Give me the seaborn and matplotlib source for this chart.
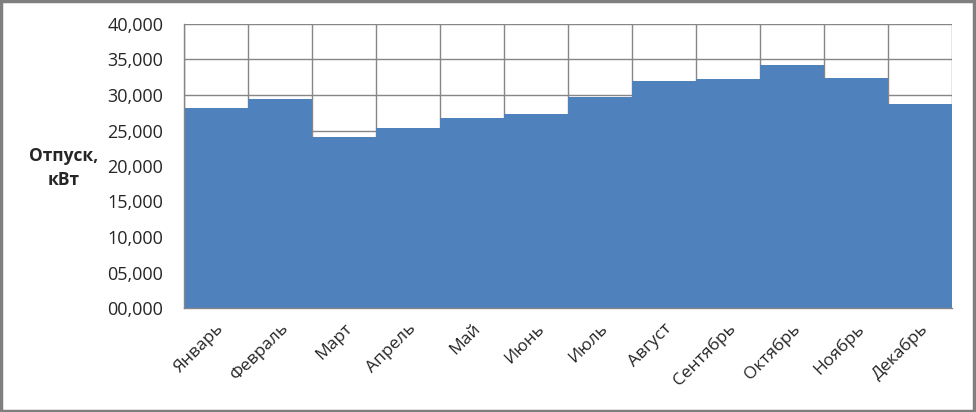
import matplotlib.pyplot as plt
import matplotlib.ticker as mticker
import pandas as pd
import seaborn as sns

# monthly release values
months = ['Январь', 'Февраль', 'Март', 'Апрель', 'Май', 'Июнь',
          'Июль', 'Август', 'Сентябрь', 'Октябрь', 'Ноябрь', 'Декабрь']
values = [28200, 29400, 24100, 25350, 26750, 27300,
          29700, 31950, 32250, 34200, 32400, 28700]
yticks = [0, 5000, 10000, 15000, 20000, 25000, 30000, 35000, 40000]

df = pd.DataFrame({'month': months, 'value': values})

sns.set_style("white")
plt.rcParams['font.family'] = ['Open Sans', 'DejaVu Sans']

grid_color = '#868686'

fig = plt.figure(figsize=(9.76, 4.12), dpi=100)
ax = fig.add_axes([184 / 976, 1 - 308 / 412, (952 - 184) / 976, (308 - 24) / 412])

sns.barplot(data=df, x='month', y='value', color='#4F81BD', saturation=1,
            width=1.0, linewidth=0, ax=ax, zorder=2)

ax.set_xlim(-0.5, len(months) - 0.5)
ax.set_ylim(0, 40000)
ax.set_yticks(yticks)
ax.yaxis.set_major_formatter(mticker.FuncFormatter(lambda v, p: f"{int(v):06,}"))

# category boundaries carry the ticks and vertical grid lines
ax.set_xticks([i - 0.5 for i in range(len(months) + 1)], minor=True)
ax.tick_params(axis='x', which='major', length=0, pad=9)
ax.tick_params(axis='x', which='minor', length=5, width=1, color=grid_color)
ax.tick_params(axis='y', length=7, width=1, color=grid_color, labelsize=13, pad=8)
ax.set_xticklabels(months, rotation=45, ha='right', rotation_mode='anchor', fontsize=12.5)

ax.set_axisbelow(True)
ax.grid(axis='y', which='major', color=grid_color, linewidth=1, zorder=0)
ax.grid(axis='x', which='minor', color=grid_color, linewidth=1, zorder=0)
ax.grid(axis='x', which='major', visible=False)

for side in ['top', 'right']:
    ax.spines[side].set_visible(False)
for side in ['left', 'bottom']:
    ax.spines[side].set_color(grid_color)
    ax.spines[side].set_linewidth(1)

ax.set_xlabel('')
ax.set_ylabel('')
fig.text(64 / 976, 1 - 168 / 412, 'Отпуск,\nкВт', fontsize=12.5, fontweight='bold',
         ha='center', va='center', linespacing=1.4)

# grey frame around the chart
fig.patches.append(plt.Rectangle((0.001, 0.002), 0.997, 0.995, transform=fig.transFigure,
                                 fill=False, edgecolor='#7f7f7f', linewidth=2.5))

fig.savefig('out.png', dpi=100)
